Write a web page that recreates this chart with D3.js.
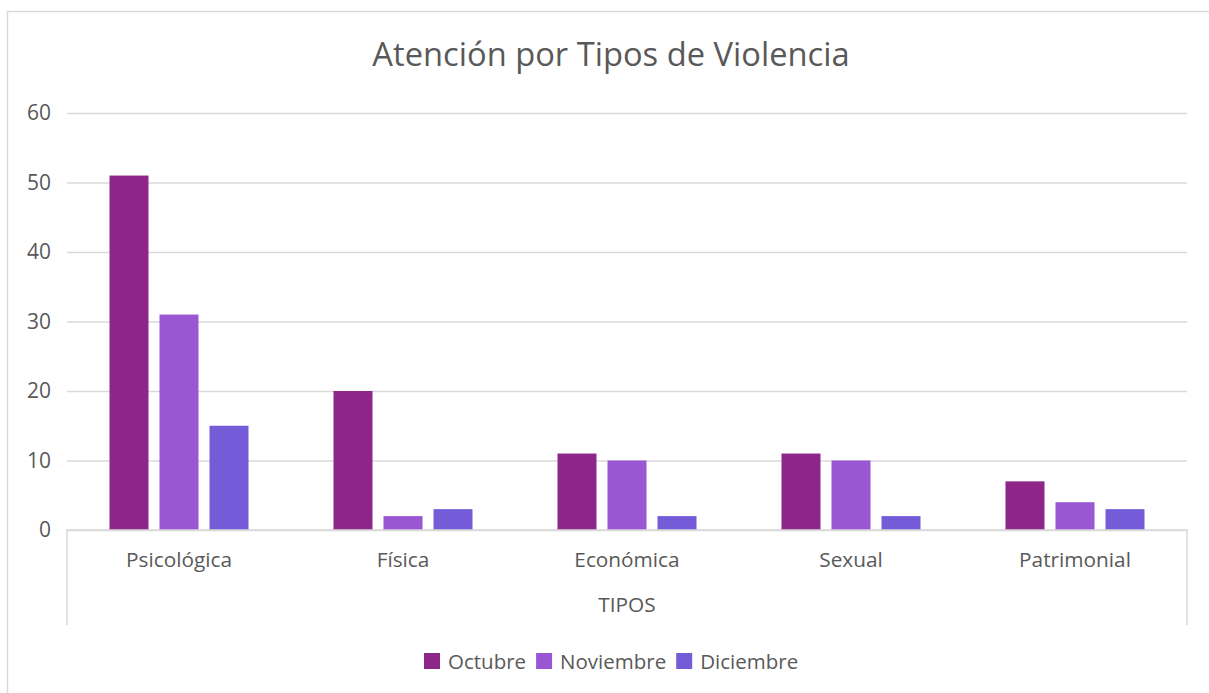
<!DOCTYPE html>
<html>
<head>
<meta charset="utf-8">
<script src="https://cdn.jsdelivr.net/npm/d3@7"></script>
<style>
  body { margin: 0; background: #fff; }
  text { font-family: "Open Sans", "Noto Sans", sans-serif; fill: #595959; }
</style>
</head>
<body>
<script>
// data
const tipos = ['Psicológica', 'Física', 'Económica', 'Sexual', 'Patrimonial'];
const meses = ['Octubre', 'Noviembre', 'Diciembre'];
const octubre = [51, 20, 11, 11, 7];
const noviembre = [31, 2, 10, 10, 4];
const diciembre = [15, 3, 2, 2, 3];
const yTicks = [0, 10, 20, 30, 40, 50, 60];
const colores = ['#8e268a', '#9a57d3', '#745cd9'];

let width = 1209,
    height = 693;

let margin = {left: 67, right: 22, top: 113, bottom: 163};

let rows = tipos.map((t, i) => ({tipo: t, values: [octubre[i], noviembre[i], diciembre[i]]}));

let svg = d3.select('body').append('svg').attr('width', width).attr('height', height);

// outer chart frame
svg.append('rect')
    .attr('x', 7.5).attr('y', 11.5)
    .attr('width', 1230).attr('height', 720)
    .style('fill', 'none')
    .style('stroke', '#d9d9d9')
    .style('stroke-width', '1.5px');

let xScale = d3.scaleBand(tipos, [margin.left, width - margin.right]),
    xInner = d3.scaleBand(meses, [0, xScale.bandwidth()]).paddingInner(0.22).paddingOuter(0.85),
    yScale = d3.scaleLinear([0, 60], [height - margin.bottom, margin.top]);

// gridlines + y labels
let yAxis = svg.append('g').attr('transform', `translate(${margin.left},0)`)
    .call(d3.axisLeft(yScale).tickValues(yTicks).tickSize(-(width - margin.left - margin.right)).tickPadding(16));
yAxis.select('.domain').remove();
yAxis.selectAll('.tick line').style('stroke', '#d9d9d9').style('stroke-width', '1.5px');
yAxis.selectAll('.tick text').style('font-size', '21px').style('fill', '#595959');

// bars
let groups = svg.selectAll('g.grupo')
    .data(rows)
    .join('g')
    .attr('class', 'grupo')
    .attr('transform', d => `translate(${xScale(d.tipo)},0)`);

groups.selectAll('rect')
    .data(d => d.values.map((v, j) => ({mes: meses[j], v: v, c: colores[j]})))
    .join('rect')
    .attr('x', d => xInner(d.mes))
    .attr('width', xInner.bandwidth())
    .attr('y', d => yScale(d.v))
    .attr('height', d => yScale(0) - yScale(d.v))
    .style('fill', d => d.c);

// category axis frame
let y0 = yScale(0), x0 = margin.left, x1 = width - margin.right;
svg.append('path')
    .attr('d', `M${x0},625V${y0}H${x1}V625`)
    .style('fill', 'none')
    .style('stroke', '#d9d9d9')
    .style('stroke-width', '1.5px');

svg.append('g').selectAll('text')
    .data(tipos)
    .join('text')
    .attr('x', d => xScale(d) + xScale.bandwidth() / 2)
    .attr('y', 567)
    .attr('text-anchor', 'middle')
    .style('font-size', '20.8px')
    .text(d => d);

svg.append('text')
    .attr('x', (x0 + x1) / 2)
    .attr('y', 612)
    .attr('text-anchor', 'middle')
    .style('font-size', '20.8px')
    .text('TIPOS');

// title
svg.append('text')
    .attr('x', 611)
    .attr('y', 66)
    .attr('text-anchor', 'middle')
    .style('font-size', '32.7px')
    .text('Atención por Tipos de Violencia');

// legend
let legend = svg.append('g');
let lx = 424;
meses.forEach((m, i) => {
    let item = legend.append('g').attr('transform', `translate(${lx},0)`);
    item.append('rect').attr('x', 0).attr('y', 653).attr('width', 16).attr('height', 16).style('fill', colores[i]);
    let t = item.append('text').attr('x', 24).attr('y', 669).style('font-size', '20.5px').text(m);
    lx += 24 + t.node().getComputedTextLength() + 10;
});
</script>
</body>
</html>
